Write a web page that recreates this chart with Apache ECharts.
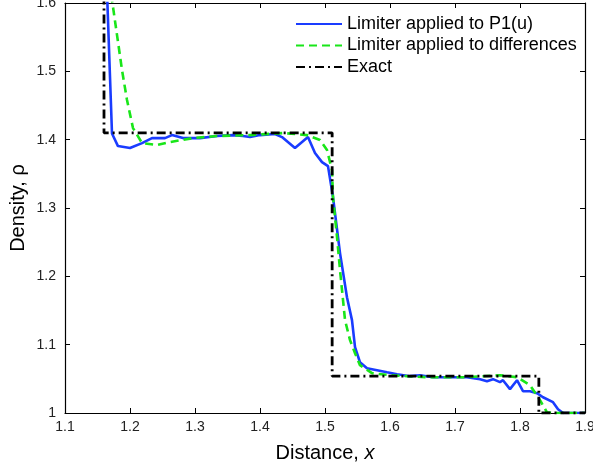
<!DOCTYPE html>
<html>
<head>
<meta charset="utf-8">
<script src="https://cdn.jsdelivr.net/npm/echarts@6/dist/echarts.min.js"></script>
<style>
html,body{margin:0;padding:0;background:#fff;}
#c{width:593px;height:466px;}
</style>
</head>
<body>
<div id="c"></div>
<script>
// Series: Limiter applied to P1(u)  [x, density]
const limiterP1X = [1.163,1.1723,1.1815,1.2,1.2185,1.2338,1.2538,1.2646,1.2815,1.3077,1.3338,1.3585,1.3738,1.3846,1.4,1.4231,1.4338,1.4538,1.4738,1.4846,1.4954,1.5046,1.5123,1.5231,1.5338,1.5415,1.5462,1.5538,1.5646,1.58,1.5954,1.6108,1.6308,1.6462,1.6662,1.6923,1.7185,1.7385,1.7492,1.7585,1.7692,1.7738,1.7846,1.7954,1.8046,1.8154,1.8262,1.8354,1.8508,1.8585,1.8662,1.9];
const limiterP1Y = [1.66,1.409,1.3906,1.3877,1.395,1.4023,1.4023,1.4067,1.4023,1.4023,1.4053,1.4067,1.4053,1.4038,1.4067,1.4082,1.4038,1.3877,1.4038,1.3804,1.3672,1.3613,1.316,1.234,1.1695,1.1359,1.0963,1.0743,1.0656,1.0627,1.0597,1.0568,1.0539,1.0553,1.0524,1.0524,1.0524,1.0495,1.0466,1.0495,1.0451,1.048,1.0349,1.048,1.0319,1.0319,1.029,1.0231,1.0158,1.0056,1.0,1.0];

// Series: Limiter applied to differences
const limiterDiffX = [1.1655,1.1877,1.1954,1.2046,1.2185,1.2415,1.2615,1.2969,1.3338,1.3846,1.4354,1.4723,1.4923,1.5031,1.5108,1.5123,1.5185,1.5231,1.5308,1.5385,1.5462,1.5538,1.5723,1.6,1.6262,1.6569,1.6923,1.7185,1.7692,1.7954,1.8154,1.8308,1.8415,1.849,1.9];
const limiterDiffY = [1.65,1.5019,1.458,1.417,1.395,1.3921,1.3965,1.4023,1.4053,1.4067,1.4097,1.4067,1.3994,1.3848,1.3555,1.316,1.2574,1.2091,1.1359,1.1066,1.0875,1.07,1.0583,1.0553,1.0539,1.0524,1.0524,1.0524,1.0553,1.0524,1.0407,1.0187,1.001,1.0,1.0];

// Series: Exact
const exactX = [1.16,1.16,1.511,1.511,1.829,1.829,1.9];
const exactY = [1.75,1.41,1.41,1.054,1.054,1.0,1.0];

// Axis ticks
const xTicks = ['1.1','1.2','1.3','1.4','1.5','1.6','1.7','1.8','1.9'];
const yTicks = ['1','1.1','1.2','1.3','1.4','1.5','1.6'];

const seriesNames = ['Limiter applied to P1(u)','Limiter applied to differences','Exact'];

function pairs(xs, ys){ return xs.map((x,i)=>[x, ys[i]]); }

const FONT = '"Liberation Sans", Arial, Helvetica, sans-serif';

const chart = echarts.init(document.getElementById('c'), null, {renderer:'canvas'});

const tickFmtX = v => { const s = v.toFixed(1); return xTicks.includes(s) ? s : ''; };
const tickFmtY = v => { const s = Math.abs(v-1) < 1e-9 ? '1' : v.toFixed(1); return yTicks.includes(s) ? s : ''; };

const axisLineStyle = {show:true, lineStyle:{color:'#000', width:1.2}};
const tickStyle = {show:true, inside:true, length:5, lineStyle:{color:'#000', width:1}};

chart.setOption({
  animation:false,
  backgroundColor:'#fff',
  grid:{left:65, right:8, top:3, bottom:53, containLabel:false, outerBoundsMode:'none'},
  legend:{
    orient:'vertical',
    left:295, top:15, padding:0,
    itemWidth:46, itemHeight:14, itemGap:3.5,
    itemStyle:{opacity:0},
    textStyle:{fontFamily:FONT, fontSize:18, color:'#000'},
    data:seriesNames
  },
  xAxis:[{
    type:'value', min:1.1, max:1.9, interval:0.1, position:'bottom',
    axisLine:axisLineStyle, axisTick:tickStyle, splitLine:{show:false},
    axisLabel:{formatter:tickFmtX, fontFamily:FONT, fontSize:14, color:'#222', margin:7},
    name:'{a|Distance, }{b|x}', nameLocation:'middle', nameGap:30,
    nameTextStyle:{rich:{a:{fontFamily:FONT, fontSize:20, color:'#000'}, b:{fontFamily:FONT, fontSize:20, fontStyle:'italic', color:'#000'}}}
  },{
    type:'value', min:1.1, max:1.9, interval:0.1, position:'top',
    axisLine:axisLineStyle, axisTick:tickStyle, splitLine:{show:false},
    axisLabel:{show:false}
  }],
  yAxis:[{
    type:'value', min:1.0, max:1.6, interval:0.1, position:'left',
    axisLine:axisLineStyle, axisTick:tickStyle, splitLine:{show:false},
    axisLabel:{formatter:tickFmtY, fontFamily:FONT, fontSize:14, color:'#222', margin:9},
    name:'Density, ρ', nameLocation:'middle', nameGap:37, nameRotate:90, nameMoveOverlap:false,
    nameTextStyle:{fontFamily:FONT, fontSize:20, color:'#000'}
  },{
    type:'value', min:1.0, max:1.6, interval:0.1, position:'right',
    axisLine:axisLineStyle, axisTick:tickStyle, splitLine:{show:false},
    axisLabel:{show:false}
  }],
  series:[{
    name:seriesNames[0], type:'line', data:pairs(limiterP1X, limiterP1Y),
    symbol:'none', clip:true, color:'#1a3cff',
    lineStyle:{color:'#1a3cff', width:2.6, type:'solid'}, z:2
  },{
    name:seriesNames[1], type:'line', data:pairs(limiterDiffX, limiterDiffY),
    symbol:'none', clip:true, color:'#19e619',
    lineStyle:{color:'#19e619', width:2.6, type:[8,5]}, z:3
  },{
    name:seriesNames[2], type:'line', data:pairs(exactX, exactY),
    symbol:'none', clip:true, color:'#000',
    lineStyle:{color:'#000', width:2.8, type:[9,4,2,4]}, z:4
  }]
});
</script>
</body>
</html>
